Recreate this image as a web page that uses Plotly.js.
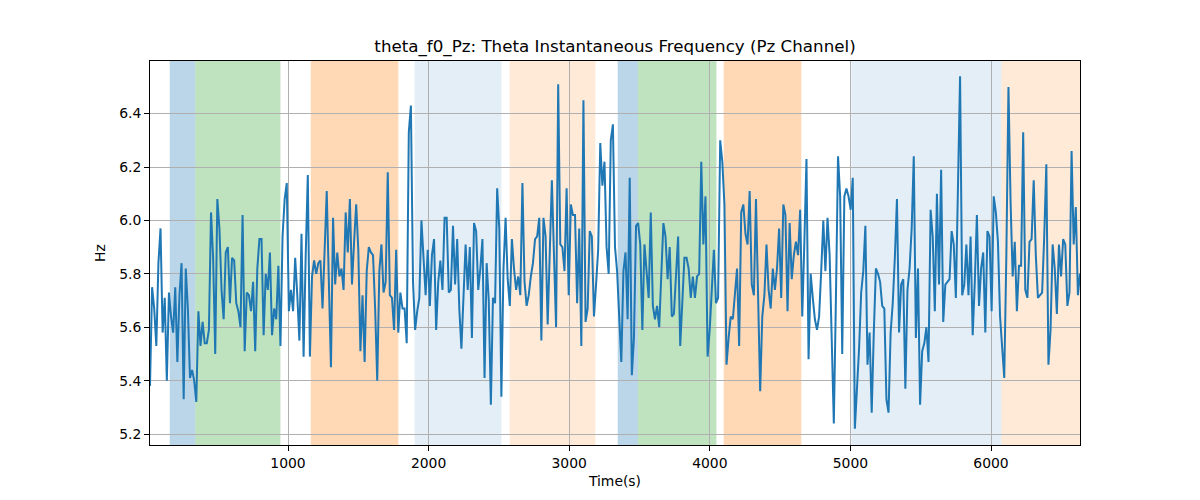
<!DOCTYPE html>
<html>
<head>
<meta charset="utf-8">
<script src="https://cdn.plot.ly/plotly-3.0.1.min.js"></script>
<style>
  html, body { margin:0; padding:0; background:#fff; }
  #chart { width:1200px; height:500px; }
</style>
</head>
<body>
<div id="chart"></div>
<script>
// ── Data: theta instantaneous frequency, Pz channel (Hz) ──────
const f0Hz = [
  5.38,5.75,5.67,5.53,5.84,5.97,5.58,5.71,5.40,5.73,
  5.64,5.58,5.75,5.47,5.72,5.84,5.33,5.82,5.67,5.41,
  5.44,5.40,5.32,5.66,5.53,5.62,5.54,5.54,5.59,6.03,
  5.86,5.50,6.08,5.97,5.74,5.63,5.88,5.90,5.69,5.86,
  5.85,5.69,5.66,5.60,6.02,5.51,5.73,5.72,5.66,5.77,
  5.51,5.82,5.93,5.93,5.57,5.80,5.74,5.88,5.57,5.67,
  5.63,5.83,5.53,5.94,6.08,6.14,5.66,5.74,5.66,5.86,
  5.72,5.55,5.95,5.49,5.87,6.17,5.49,
  5.79,5.85,5.80,5.84,5.85,5.67,5.87,6.11,5.77,5.45,
  6.01,5.76,5.88,5.79,5.82,5.74,6.03,5.88,6.08,5.76,
  5.92,6.06,5.89,5.51,5.72,5.47,5.81,5.90,5.88,5.87,
  5.67,5.40,5.81,5.91,5.73,5.77,6.18,5.72,5.71,5.59,
  5.89,5.58,5.73,5.67,5.67,5.54,6.33,6.43,5.77,5.59,
  5.66,5.71,6.00,5.83,5.72,5.89,5.68,5.87,5.93,5.59,
  5.77,5.85,5.74,6.01,6.01,5.73,5.74,5.98,5.76,5.93,
  5.67,5.52,5.70,5.91,5.74,
  5.90,5.56,5.99,5.96,5.74,5.82,5.93,5.41,5.84,5.70,
  5.31,5.71,5.69,6.12,5.97,5.34,5.82,6.01,5.78,5.68,
  5.93,5.82,5.74,5.79,5.72,6.14,5.77,5.68,5.72,5.79,
  5.84,5.93,5.94,6.01,5.55,6.01,5.94,5.61,5.88,6.15,
  5.87,5.60,6.51,5.91,5.90,5.81,6.12,5.72,6.06,6.02,
  6.02,5.69,5.97,5.53,6.45,5.62,5.67,5.96,5.94,5.64,
  5.76,5.89,6.29,6.13,6.22,5.90,5.80,6.30,6.36,5.90,
  5.81,5.64,
  5.47,5.81,5.88,5.63,6.16,5.42,5.56,5.98,5.99,5.91,
  5.59,5.91,5.81,5.71,6.03,5.68,5.63,5.68,5.60,5.81,
  5.99,5.94,5.78,5.90,5.64,5.65,5.79,5.94,5.53,5.67,
  5.86,5.86,5.82,5.71,5.79,5.71,5.79,5.80,6.22,5.91,
  6.09,5.49,5.59,5.74,5.89,5.69,5.71,6.30,6.22,6.06,
  5.46,5.56,5.64,5.63,5.73,5.82,5.53,6.03,6.06,5.95,
  5.91,6.11,5.76,5.72,6.08,5.74,5.36,5.64,5.72,5.91,
  5.74,5.67,5.82,5.74,5.82,5.97,5.71,6.06,6.02,
  5.66,5.99,5.78,5.87,5.92,5.87,6.04,5.64,5.92,6.23,
  5.48,5.80,5.71,5.63,5.59,5.64,5.81,6.00,5.81,6.01,
  5.87,5.56,5.24,5.71,6.24,6.09,5.50,6.09,6.12,6.09,
  6.04,6.16,5.22,5.37,5.52,5.73,5.81,5.98,5.46,5.58,
  5.28,5.58,5.82,5.80,5.77,5.68,5.67,5.33,5.28,5.58,
  5.69,5.86,6.08,5.58,5.76,5.78,5.37,5.74,5.82,5.97,
  6.24,5.56,5.82,5.31,5.51,5.54,5.60,5.47,6.04,
  5.94,5.66,6.10,5.76,6.19,5.62,5.76,5.77,5.78,5.96,
  5.91,5.71,6.12,6.54,5.72,5.76,5.91,5.72,5.94,5.57,
  5.77,6.02,5.68,5.82,5.88,5.58,5.96,5.94,5.66,6.09,
  6.03,5.92,5.64,5.52,5.41,5.87,6.50,6.07,5.79,5.92,
  5.66,5.83,5.83,6.33,5.74,5.71,5.92,5.93,6.15,5.87,
  5.71,5.72,5.73,5.94,6.21,5.46,5.59,5.91,5.82,5.65,
  5.91,5.79,5.93,5.91,5.68,5.73,6.26,5.91,6.05,5.72,
  5.80
];
const tStart = 18.5;   // first sample (s)
const tEnd   = 6633;   // last sample (s)

// shaded segments (s)
const segStart = [159, 341, 1162, 1901, 2577, 3345, 3489, 4099, 5007, 6074];
const segEnd   = [341, 946, 1785, 2518, 3186, 3489, 4047, 4651, 6074, 6633];
const segKind  = ['b','g','o','lb','lo','b','g','o','lb','lo'];

const yTicks = [5.2, 5.4, 5.6, 5.8, 6.0, 6.2, 6.4];
const xTicks = [1000, 2000, 3000, 4000, 5000, 6000];

const segFill = {
  b:  'rgba(31,119,180,0.3)',
  g:  'rgba(44,160,44,0.3)',
  o:  'rgba(255,127,14,0.3)',
  lb: 'rgba(31,119,180,0.12)',
  lo: 'rgba(255,127,14,0.16)',
};

const dt = (tEnd - tStart) / (f0Hz.length - 1);
const times = f0Hz.map((_, i) => tStart + i * dt);

// spans sit above the grid but under the line, as in matplotlib
const shapes = segStart.map((s, i) => ({
  type:'rect', xref:'x', yref:'paper',
  x0:s, x1:segEnd[i], y0:0, y1:1,
  fillcolor:segFill[segKind[i]],
  line:{width:0},
  layer:'between',
}));

const font = 'DejaVu Sans, Liberation Sans, sans-serif';

const axisBase = {
  showline:true, mirror:true, linecolor:'#000', linewidth:1,
  ticks:'outside', ticklen:5, tickwidth:1, tickcolor:'#000',
  showgrid:true, gridcolor:'#b0b0b0', gridwidth:1,
  zeroline:false,
  tickfont:{family:font, size:13.9, color:'#000'},
};

Plotly.newPlot('chart', [{
  type:'scatter', mode:'lines',
  x: times, y: f0Hz,
  line:{color:'#1f77b4', width:2},
  hoverinfo:'skip',
}], {
  width:1200, height:500,
  margin:{l:150, r:120, t:61, b:55},
  paper_bgcolor:'#fff', plot_bgcolor:'#fff',
  showlegend:false,
  title:{
    text:'theta_f0_Pz: Theta Instantaneous Frequency (Pz Channel)',
    font:{family:font, size:16.7, color:'#000'},
    x:0.5, xanchor:'center', xref:'paper', y:0.908, yanchor:'middle',
  },
  xaxis:{
    ...axisBase,
    range:[tStart, tEnd],
    tickvals:xTicks, ticktext:xTicks.map(String),
    title:{text:'Time(s)', font:{family:font, size:13.9, color:'#000'}, standoff:6},
  },
  yaxis:{
    ...axisBase,
    range:[5.159, 6.597],
    tickvals:yTicks, ticktext:yTicks.map(v => v.toFixed(1)),
    title:{text:'Hz', font:{family:font, size:13.9, color:'#000'}, standoff:10},
  },
  shapes,
}, {staticPlot:true, displayModeBar:false});
</script>
</body>
</html>
